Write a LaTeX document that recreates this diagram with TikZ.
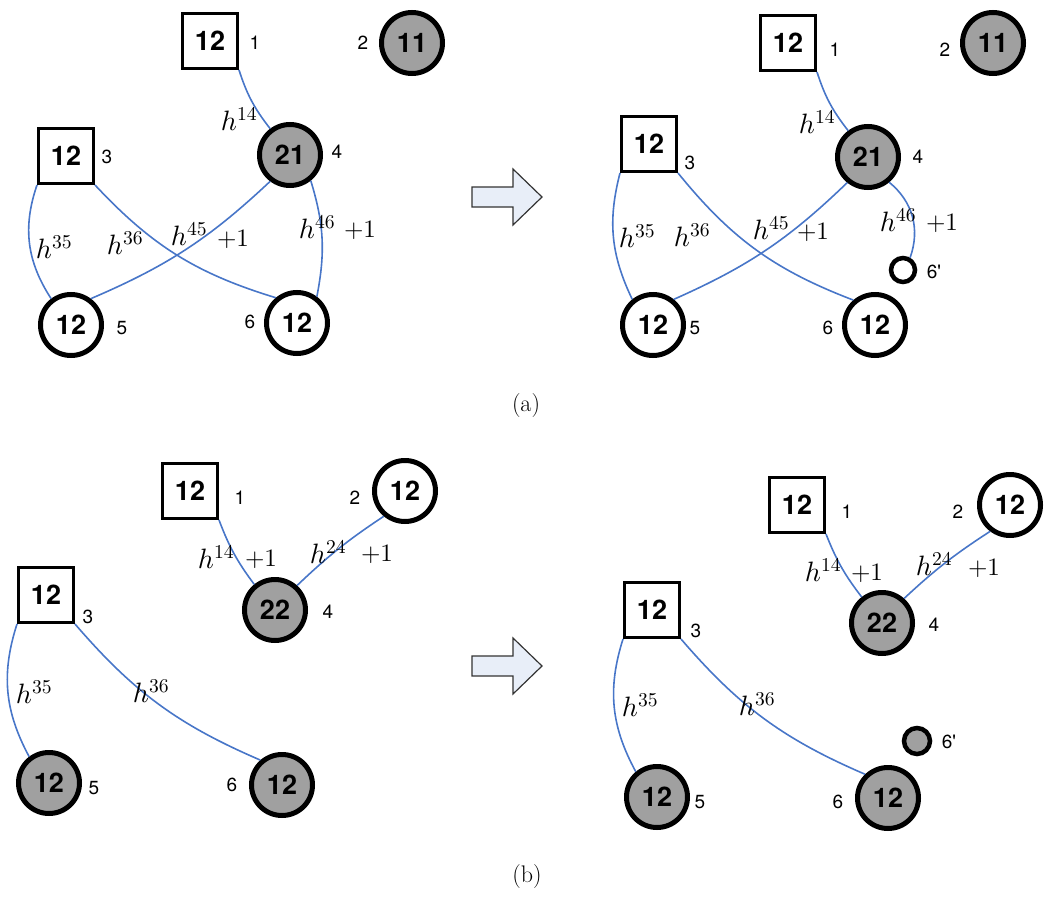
\documentclass[tikz,border=0pt]{standalone}
\usepackage{fontspec}
\DeclareFontShape{OML}{cmm}{m}{it}{<->cmmi10}{}
\DeclareFontShape{OMS}{cmsy}{m}{n}{<->cmsy10}{}
\DeclareFontShape{OT1}{cmr}{m}{n}{<->cmr10}{}
\newfontfamily\helv{TeX Gyre Heros}
\definecolor{nodegray}{RGB}{160,160,160}
\definecolor{linkblue}{RGB}{72,118,200}
\definecolor{arrowfill}{RGB}{232,238,248}
\begin{document}
\begin{tikzpicture}[x=1pt, y=1pt]
  \tikzstyle{vtx}=[circle, draw, line width=5pt, minimum size=61pt, inner sep=0pt, fill=white, font=\helv\bfseries\fontsize{27}{27}\selectfont]
  \tikzstyle{box}=[rectangle, draw, line width=3pt, minimum size=55pt, inner sep=0pt, fill=white, font=\helv\bfseries\fontsize{27}{27}\selectfont]
  \tikzstyle{tiny}=[circle, draw, line width=4.5pt, minimum size=24pt, inner sep=0pt, fill=white]
  \tikzstyle{shaded}=[fill=nodegray]
  \tikzstyle{tag}=[inner sep=0pt, font=\helv\fontsize{19}{19}\selectfont]
  \tikzstyle{wt}=[inner sep=0pt, font=\fontsize{28}{28}\selectfont]
  \tikzstyle{inc}=[inner sep=0pt, font=\fontsize{25}{25}\selectfont]
  \tikzstyle{link}=[draw=linkblue, line width=1.6pt]
  \tikzstyle{fat}=[draw=black!80, line width=1.2pt, fill=arrowfill]

  \useasboundingbox (0,0) rectangle (1050,-902);

  % (a) before
  \node[box]         (p1) at (210, -41)  {12};
  \node[vtx, shaded] (p2) at (412, -43)  {11};
  \node[box]         (p3) at (66,  -156) {12};
  \node[vtx, shaded] (p4) at (290, -155) {21};
  \node[vtx]         (p5) at (71,  -325) {12};
  \node[vtx]         (p6) at (297, -323) {12};

  \node[tag] (p1n) at (255, -43)  {1};
  \node[tag] (p2n) at (363, -43)  {2};
  \node[tag] (p3n) at (107, -157) {3};
  \node[tag] (p4n) at (337, -152) {4};
  \node[tag] (p5n) at (122, -328) {5};
  \node[tag] (p6n) at (250, -322) {6};

  \path (p1.south east) edge[link, bend right=10] (p4.127);
  \path (p3.south west) edge[link, bend right=26] (p5.127);
  \path (p3.south east) edge[link, bend right=15] (p6.130);
  \path (p4.233)        edge[link, bend left=10]  (p5.53);
  \path (p4.309)        edge[link, bend left=14]  (p6.53);

  \node[wt]  (p14) at (239, -119) {$h^{14}$};
  \node[wt]  (p35) at (54,  -247) {$h^{35}$};
  \node[wt]  (p36) at (125, -243) {$h^{36}$};
  \node[wt]  (p45) at (189, -234) {$h^{45}$};
  \node[inc] (p45p) at (233, -239) {$+1$};
  \node[wt]  (p46) at (317, -227) {$h^{46}$};
  \node[inc] (p46p) at (360, -230) {$+1$};

  % (a) after
  \node[box]         (q1) at (788, -43)  {12};
  \node[vtx, shaded] (q2) at (993, -43)  {11};
  \node[box]         (q3) at (649, -144) {12};
  \node[vtx, shaded] (q4) at (868, -157) {21};
  \node[vtx]         (q5) at (653, -325) {12};
  \node[vtx]         (q6) at (875, -325) {12};
  \node[tiny]        (q7) at (903, -270) {};

  \node[tag] (q1n) at (835, -50)  {1};
  \node[tag] (q2n) at (945, -50)  {2};
  \node[tag] (q3n) at (690, -163) {3};
  \node[tag] (q4n) at (918, -157) {4};
  \node[tag] (q5n) at (695, -328) {5};
  \node[tag] (q6n) at (828, -328) {6};
  \node[tag] (q7n) at (934, -272) {6\textquotesingle};

  \path (q1.south east) edge[link, bend right=10] (q4.127);
  \path (q3.south west) edge[link, bend right=20] (q5.129);
  \path (q3.south east) edge[link, bend right=15] (q6.131);
  \path (q4.231)        edge[link, bend left=10]  (q5.51);
  \path (q4.310)        edge[link, bend left=35]  (q7.60);

  \node[wt]  (q14) at (817, -122) {$h^{14}$};
  \node[wt]  (q35) at (637, -236) {$h^{35}$};
  \node[wt]  (q36) at (692, -235) {$h^{36}$};
  \node[wt]  (q45) at (771, -228) {$h^{45}$};
  \node[inc] (q45p) at (813, -232) {$+1$};
  \node[wt]  (q46) at (898, -220) {$h^{46}$};
  \node[inc] (q46p) at (942, -223) {$+1$};

  % (b) before
  \node[box]         (r1) at (190, -491) {12};
  \node[vtx]         (r2) at (405, -491) {12};
  \node[box]         (r3) at (46,  -595) {12};
  \node[vtx, shaded] (r4) at (275, -610) {22};
  \node[vtx, shaded] (r5) at (49,  -783) {12};
  \node[vtx, shaded] (r6) at (282, -785) {12};

  \node[tag] (r1n) at (240, -498) {1};
  \node[tag] (r2n) at (355, -498) {2};
  \node[tag] (r3n) at (88,  -617) {3};
  \node[tag] (r4n) at (328, -612) {4};
  \node[tag] (r5n) at (94,  -788) {5};
  \node[tag] (r6n) at (232, -785) {6};

  \path (r1.south east) edge[link, bend right=8]  (r4.129);
  \path (r2.230)        edge[link, bend right=5]  (r4.48);
  \path (r3.south west) edge[link, bend right=23] (r5.127);
  \path (r3.south east) edge[link, bend right=13] (r6.131);

  \node[wt]  (r14) at (216, -557) {$h^{14}$};
  \node[inc] (r14p) at (261, -559) {$+1$};
  \node[wt]  (r24) at (328, -552) {$h^{24}$};
  \node[inc] (r24p) at (377, -554) {$+1$};
  \node[wt]  (r35) at (34,  -692) {$h^{35}$};
  \node[wt]  (r36) at (151, -691) {$h^{36}$};

  % (b) after
  \node[box]         (s1) at (797,  -505) {12};
  \node[vtx]         (s2) at (1010, -505) {12};
  \node[box]         (s3) at (652,  -610) {12};
  \node[vtx, shaded] (s4) at (882,  -623) {22};
  \node[vtx, shaded] (s5) at (657,  -797) {12};
  \node[vtx, shaded] (s6) at (888,  -798) {12};
  \node[tiny, shaded, minimum size=26pt] (s7) at (917, -741) {};

  \node[tag] (s1n) at (847, -512) {1};
  \node[tag] (s2n) at (958, -512) {2};
  \node[tag] (s3n) at (696, -631) {3};
  \node[tag] (s4n) at (934, -625) {4};
  \node[tag] (s5n) at (700, -802) {5};
  \node[tag] (s6n) at (838, -802) {6};
  \node[tag] (s7n) at (949, -742) {6\textquotesingle};

  \path (s1.south east) edge[link, bend right=8]  (s4.128);
  \path (s2.233)        edge[link, bend right=5]  (s4.48);
  \path (s3.south west) edge[link, bend right=23] (s5.130);
  \path (s3.south east) edge[link, bend right=13] (s6.134);

  \node[wt]  (s14) at (823, -570) {$h^{14}$};
  \node[inc] (s14p) at (867, -573) {$+1$};
  \node[wt]  (s24) at (934, -564) {$h^{24}$};
  \node[inc] (s24p) at (984, -568) {$+1$};
  \node[wt]  (s35) at (640, -705) {$h^{35}$};
  \node[wt]  (s36) at (757, -704) {$h^{36}$};

  % block arrows
  \foreach \y in {-197,-666}
    \draw[fat] (472,\y+10) -- (513,\y+10) -- (513,\y+28) -- (542,\y)
      -- (513,\y-28) -- (513,\y-10) -- (472,\y-10) -- cycle;

  \node[font=\fontsize{24}{24}\selectfont] (capa) at (526, -406) {(a)};
  \node[font=\fontsize{24}{24}\selectfont] (capb) at (527, -877) {(b)};
\end{tikzpicture}
\end{document}
